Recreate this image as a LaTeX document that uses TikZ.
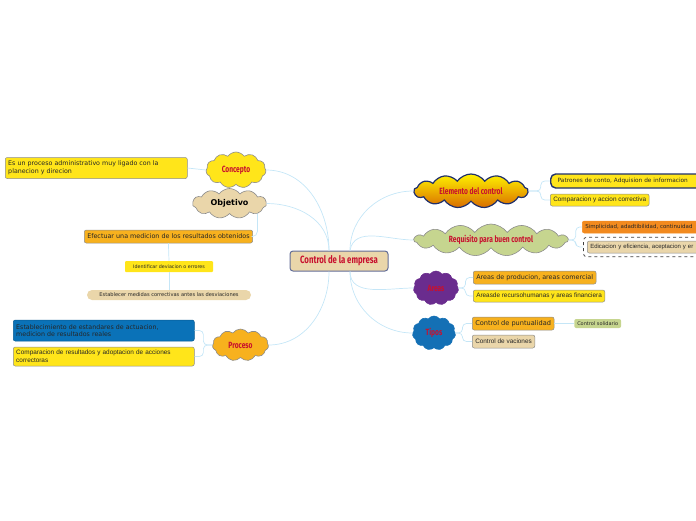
\documentclass[tikz,border=0pt]{standalone}
\usepackage{fontspec}
\setmainfont{DejaVu Sans}
\newfontfamily\condfont[FakeStretch=0.74]{Fira Sans}
\newfontfamily\narrowfont{Liberation Sans}
\usetikzlibrary{shapes.symbols, positioning, fit}

\definecolor{cyel}{HTML}{FFE51A}
\definecolor{corange}{HTML}{F7B11E}
\definecolor{cdorange}{HTML}{F28A1E}
\definecolor{ctan}{HTML}{EAD6AA}
\definecolor{cblue}{HTML}{0A72B8}
\definecolor{cgreen}{HTML}{C6D58F}
\definecolor{cpurple}{HTML}{6A2C8E}
\definecolor{ctblue}{HTML}{1470B5}
\definecolor{cred}{HTML}{C8102E}
\definecolor{cnavy}{HTML}{1F2F6B}
\definecolor{cgray}{HTML}{8C8C8C}
\definecolor{clink}{HTML}{C5E6F7}

% cloud labels take no width, so the cloud keeps its given size
\newcommand{\cloudlabel}[1]{\makebox[0pt]{#1}}

\begin{document}
\begin{tikzpicture}[
        x=1pt, y=-1pt,
        link/.style={draw=clink, line width=0.7pt},
        cloudnode/.style={cloud, cloud puffs=11, cloud puff arc=110, inner sep=0pt,
                    draw=cgray, line width=0.6pt, text=cred,
                    font=\condfont\bfseries\fontsize{9}{10}\selectfont},
        leaf/.style={rectangle, draw=cgray, line width=0.5pt, rounded corners=2pt, anchor=west,
                    inner xsep=3pt, inner ysep=2pt, align=left, text=black!85,
                    font=\fontsize{6.4}{7.6}\selectfont},
        narrowleaf/.style={leaf, font=\narrowfont\fontsize{6.4}{7.6}\selectfont},
        tinyleaf/.style={leaf, draw=none, anchor=center, font=\fontsize{5}{6}\selectfont}
    ]
        \useasboundingbox (0,0) rectangle (696,520);
        \clip (0,0) rectangle (696,520);

        % centre
        \node[rectangle, draw=cnavy!70, line width=1pt, fill=ctan, rounded corners=3pt,
              minimum width=98, minimum height=20, text=cred,
              font=\condfont\bfseries\fontsize{10.5}{12}\selectfont] (empresa) at (339,261) {Control de la empresa};
        \coordinate (tl) at ([xshift=-10]empresa.north);
        \coordinate (bl) at ([xshift=-10]empresa.south);
        \coordinate (tr) at ([xshift=11]empresa.north);
        \coordinate (br) at ([xshift=11]empresa.south);

        % left branches
        \node[cloudnode, fill=cyel, minimum width=60, minimum height=36, aspect=1.7] (concepto) at (236,170) {\cloudlabel{Concepto}};
        \node[cloudnode, fill=ctan, minimum width=74, minimum height=30, aspect=2.5, text=black,
              font=\bfseries\fontsize{8}{10}\selectfont] (objetivo) at (229.5,203.5) {\cloudlabel{Objetivo}};
        \node[cloudnode, fill=corange, minimum width=56, minimum height=32, aspect=1.75] (proceso) at (240.5,345) {\cloudlabel{Proceso}};

        \node[leaf, fill=cyel, text width=176, minimum height=21,
              font=\fontsize{6.3}{7.6}\selectfont] (definicion) at (5,168)
            {Es un proceso administrativo muy ligado con la\\planecion y direcion};
        \node[leaf, fill=corange, minimum height=13] (efectuar) at (84,236.5)
            {Efectuar una medicion de los resultados obtenidos};
        \node[tinyleaf, fill=cyel, rounded corners=1pt, minimum width=88, minimum height=11,
              font=\fontsize{4.8}{6}\selectfont] (identificar) at (169,266.5) {Identificar deviacion o errores};
        \node[tinyleaf, fill=ctan, rounded corners=5pt, minimum width=164, minimum height=10,
              font=\fontsize{5.1}{6}\selectfont] (establecer) at (169,295) {Establecer medidas correctivas antes las desviaciones};
        \node[leaf, fill=cblue, draw=cblue!80!black, text width=175, minimum height=21,
              font=\fontsize{6.3}{7.6}\selectfont] (estandares) at (13,330.5)
            {Establecimiento de estandares de actuacion,\\medicion de resultados reales};
        \node[narrowleaf, fill=cyel, text width=175, minimum height=19] (correctoras) at (13,356.5)
            {Comparacion de resultados y adoptacion de acciones\\correctoras};

        \draw[link] (tl) to[out=90, in=0] (concepto.east);
        \draw[link] (tl) to[out=90, in=0] (objetivo.east);
        \draw[link] (bl) to[out=-90, in=0] (proceso.east);
        \draw[link] (concepto.west) -- (definicion.east);
        \draw[link, rounded corners=5] (objetivo.-20) |- (efectuar.east);
        \draw[link] (efectuar.south) -- (identificar.north);
        \draw[link] (identificar.south) -- (establecer.north);
        \draw[link, rounded corners=4] (proceso.west) -- ++(-9,0) |- (estandares.east);
        \draw[link, rounded corners=4] (proceso.west) -- ++(-9,0) |- (correctoras.east);

        % right branches
        \node[cloudnode, top color=yellow!90!orange, bottom color=orange!85!black, draw=cnavy, line width=1.2pt,
              minimum width=114, minimum height=34, aspect=3.4, cloud puffs=13] (elemento) at (471,191) {\cloudlabel{Elemento del control}};
        \node[cloudnode, fill=cgreen, minimum width=154, minimum height=32, aspect=4.8, cloud puffs=15] (requisito) at (491,240) {\cloudlabel{Requisito para buen control}};
        \node[cloudnode, fill=cpurple, draw=cpurple, minimum width=45, minimum height=34, aspect=1.3] (areas) at (436,288) {\cloudlabel{Areas}};
        \node[cloudnode, fill=ctblue, draw=ctblue, minimum width=43, minimum height=34, aspect=1.3] (tipos) at (434,333) {\cloudlabel{Tipos}};

        \node[leaf, fill=cyel, draw=cnavy, line width=1.4pt, rounded corners=5pt, inner xsep=7pt,
              text width=160, minimum height=14, font=\fontsize{5.8}{7.5}\selectfont] (patrones) at (550,181) {Patrones de conto, Adquision de informacion};
        \node[narrowleaf, fill=cyel, minimum height=12] (comparacion) at (550,200) {Comparacion y accion correctiva};
        \node[leaf, fill=cdorange, draw=cdorange, minimum height=12, text width=130,
              font=\fontsize{5.5}{7}\selectfont] (simplicidad) at (582,227) {Simplicidad, adadtibilidad, continuidad};
        \node[narrowleaf, fill=ctan, minimum height=12, text width=130,
              font=\narrowfont\fontsize{6}{7}\selectfont] (eficiencia) at (587,247) {Edicacion y eficiencia, aceptacion y er};
        \node[draw=black!75, dashed, line width=0.7pt, rounded corners=3pt, inner sep=3.5pt, fit=(eficiencia)] (grupo) {};
        \node[leaf, fill=corange, minimum height=13] (producion) at (473,277.5) {Areas de producion, areas comercial};
        \node[narrowleaf, fill=cyel, minimum height=12] (recursos) at (473,296) {Areasde recursohumanas y areas financiera};
        \node[leaf, fill=corange, minimum height=13, font=\fontsize{6.6}{7.6}\selectfont] (puntualidad) at (472,323.5) {Control de puntualidad};
        \node[leaf, fill=cgreen, draw=none, minimum height=9, font=\fontsize{5}{6}\selectfont] (solidario) at (574,323.5) {Control solidario};
        \node[narrowleaf, fill=ctan, minimum height=13] (vaciones) at (472,341.5) {Control de vaciones};

        \draw[link] (tr) to[out=90, in=180] (elemento.west);
        \draw[link] (tr) to[out=80, in=180] (requisito.west);
        \draw[link] (br) to[out=-90, in=180] (areas.west);
        \draw[link] (br) to[out=-90, in=180] (tipos.west);
        \draw[link, rounded corners=4] (elemento.east) -- ++(12,0) |- (patrones.west);
        \draw[link, rounded corners=4] (elemento.east) -- ++(12,0) |- (comparacion.west);
        \draw[link, rounded corners=4] (requisito.east) -- ++(7,0) |- (simplicidad.west);
        \draw[link, rounded corners=4] (requisito.east) -- ++(7,0) |- (grupo.west);
        \draw[link, rounded corners=4] (areas.east) -- ++(7,0) |- (producion.west);
        \draw[link, rounded corners=4] (areas.east) -- ++(7,0) |- (recursos.west);
        \draw[link, rounded corners=4] (tipos.east) -- ++(7,0) |- (puntualidad.west);
        \draw[link, rounded corners=4] (tipos.east) -- ++(7,0) |- (vaciones.west);
        \draw[link] (puntualidad.east) -- (solidario.west);
    \end{tikzpicture}
\end{document}
